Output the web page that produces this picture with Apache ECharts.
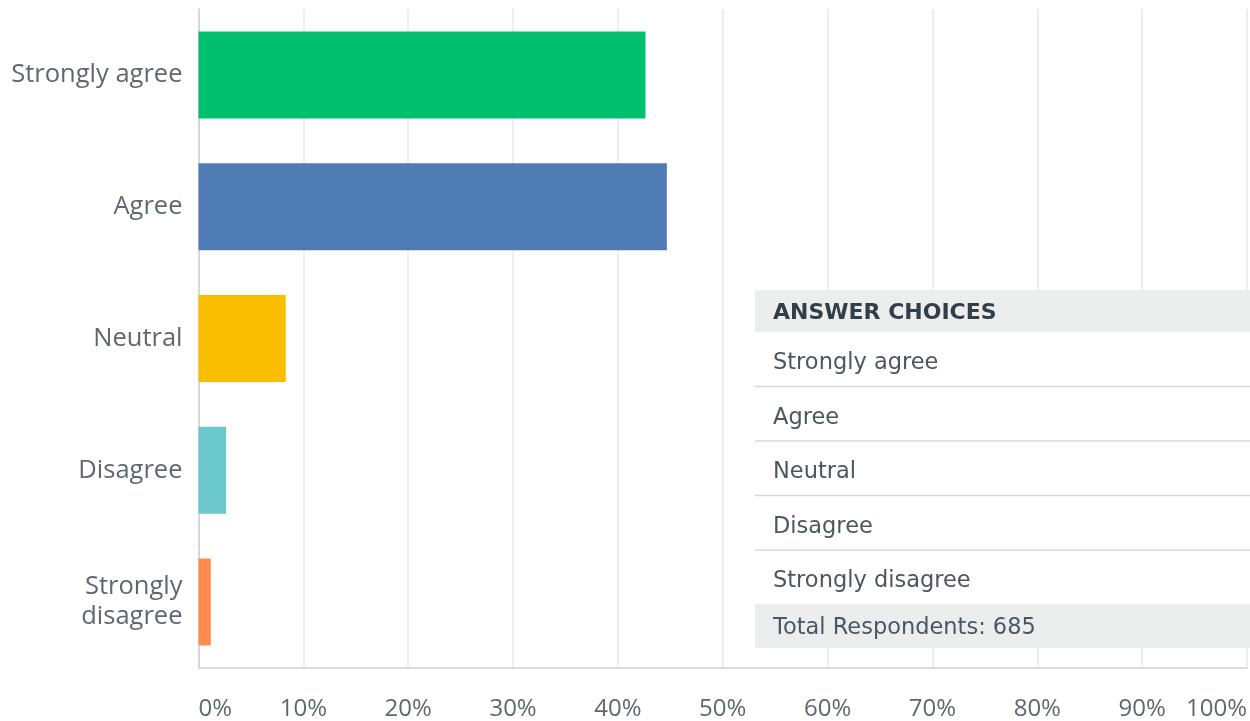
<!DOCTYPE html>
<html>
<head>
<meta charset="utf-8">
<script src="https://cdn.jsdelivr.net/npm/echarts@6/dist/echarts.min.js"></script>
<style>
html,body{margin:0;padding:0;background:#fff;}
#chart{width:1250px;height:721px;}
</style>
</head>
<body>
<div id="chart"></div>
<script>
const categories = ['Strongly agree', 'Agree', 'Neutral', 'Disagree', 'Strongly disagree'];
const percentValues = [42.63, 44.67, 8.32, 2.63, 1.17];
const barColors = ['#00bf6f', '#507cb6', '#f9be00', '#6bc8cd', '#ff8b4f'];
const xTicks = [0, 10, 20, 30, 40, 50, 60, 70, 80, 90, 100];
const tableHeader = 'ANSWER CHOICES';
const tableRows = categories;
const totalRespondents = 685;

const chart = echarts.init(document.getElementById('chart'), null, {renderer: 'canvas'});

const labelColor = '#5f6870';
const axisFont = '"Open Sans", sans-serif';
const tableFont = '"DejaVu Sans", sans-serif';

// table geometry
const tX = 755, tW = 495;
const headerTop = 290, headerH = 42;
const rowH = 54.5;
const graphics = [];
const rowsTop = headerTop + headerH;
const totalTop = rowsTop + rowH * tableRows.length - 0.5;
graphics.push({type: 'rect', z: 100, shape: {x: tX, y: headerTop, width: tW, height: totalTop + 44 - headerTop}, style: {fill: '#ffffff'}});
graphics.push({type: 'rect', z: 101, shape: {x: tX, y: headerTop, width: tW, height: headerH}, style: {fill: '#eceeee'}});
graphics.push({type: 'text', z: 102, x: 773, y: headerTop + headerH / 2 + 2.5,
  style: {text: tableHeader, font: 'bold 22px ' + tableFont, fill: '#333e48', textVerticalAlign: 'middle'}});
tableRows.forEach((r, i) => {
  const top = rowsTop + i * rowH;
  graphics.push({type: 'text', z: 102, x: 773, y: top + 31.5,
    style: {text: r, font: '22.5px ' + tableFont, fill: '#4d565f', textVerticalAlign: 'middle'}});
  if (i < tableRows.length - 1) {
    graphics.push({type: 'line', z: 102, shape: {x1: tX, y1: top + rowH, x2: tX + tW, y2: top + rowH},
      style: {stroke: '#d6d9db', lineWidth: 1.5}});
  }
});
graphics.push({type: 'rect', z: 101, shape: {x: tX, y: totalTop, width: tW, height: 44}, style: {fill: '#eceeee'}});
graphics.push({type: 'text', z: 102, x: 773, y: totalTop + 24,
  style: {text: 'Total Respondents: ' + totalRespondents, font: '22.5px ' + tableFont, fill: '#4d565f', textVerticalAlign: 'middle'}});

chart.setOption({
  animation: false,
  backgroundColor: '#ffffff',
  grid: {left: 198.5, right: 0, top: 9, bottom: 53, containLabel: false},
  xAxis: {
    type: 'value', min: 0, max: 100, interval: 10,
    axisLine: {show: true, lineStyle: {color: '#cfcfcf', width: 1.5}},
    axisTick: {show: false},
    splitLine: {show: true, lineStyle: {color: '#e8e8e8', width: 1.5}},
    axisLabel: {
      formatter: v => xTicks.includes(v) ? v + '%' : '',
      color: labelColor, fontSize: 24, fontFamily: axisFont, margin: 29,
      alignMinLabel: 'left', alignMaxLabel: 'right'
    }
  },
  yAxis: {
    type: 'category', data: categories, inverse: true,
    axisLine: {show: true, lineStyle: {color: '#cfcfcf', width: 1.5}},
    axisTick: {show: false},
    splitLine: {show: false},
    axisLabel: {
      formatter: v => v.length > 15 ? v.replace(' ', '\n') : v,
      color: labelColor, fontSize: 25.5, fontFamily: axisFont, margin: 16, lineHeight: 30, align: 'right'
    }
  },
  series: [{
    type: 'bar',
    data: percentValues.map((v, i) => ({value: v, itemStyle: {color: barColors[i]}})),
    barWidth: '66%',
    z: 2
  }],
  graphic: graphics
});
</script>
</body>
</html>
